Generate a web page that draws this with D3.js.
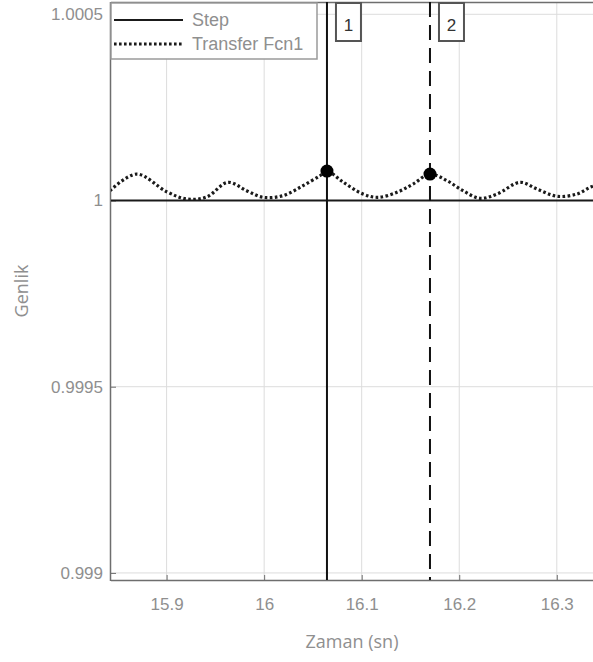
<!DOCTYPE html>
<html><head><meta charset="utf-8">
<script src="https://cdn.jsdelivr.net/npm/d3@7"></script>
<style>body{margin:0;background:#fff;}svg{display:block;}</style>
</head><body>
<svg id="c" width="593" height="662"></svg>
<script>
// ---- data ----
const xTicks = [15.9, 16, 16.1, 16.2, 16.3];
const yTicks = [0.999, 0.9995, 1, 1.0005];
const yTickLabels = ["0.999", "0.9995", "1", "1.0005"];
const legendLabels = ["Step", "Transfer Fcn1"];
const stepT = [15.80, 16.40];
const stepV = [1, 1];
const tfT = [15.842, 15.8692, 15.900, 15.9205, 15.941, 15.9629, 15.982, 15.9988, 16.0193, 16.0398, 16.0572, 16.0644, 16.0808, 16.1013, 16.1167, 16.1362, 16.1526, 16.170, 16.1875, 16.2039, 16.2213, 16.2388, 16.2624, 16.2798, 16.3003, 16.3208, 16.3341, 16.345];
const tfV = [1.0000263, 1.000071, 1.0000236, 1.000004, 1.0000094, 1.0000488, 1.0000263, 1.0000086, 1.0000129, 1.0000397, 1.0000665, 1.000079, 1.0000496, 1.0000174, 1.0000086, 1.000022, 1.0000442, 1.000071, 1.0000531, 1.0000263, 1.0000059, 1.0000174, 1.0000488, 1.0000308, 1.0000113, 1.0000174, 1.0000354, 1.000046];
const cursorT = [16.0644, 16.1700];
const cursorV = [1.000079, 1.000071];
const cursorLabels = ["1", "2"];

// ---- layout ----
const svg = d3.select("#c");
const L = 111, T = 2, R = 600, B = 580;
const x = d3.scaleLinear().domain([15.8430, 16.3443]).range([L, R]);
const y = d3.scaleLinear().domain([0.998981, 1.000533]).range([B, T]);
const FONT = "Liberation Sans, Arial, sans-serif";
const TXT = "#8f8f8f";

const g = svg.append("g");
g.append("rect").attr("x", L).attr("y", T).attr("width", R - L).attr("height", B - T).attr("fill", "#fff");

// grid
g.selectAll(".gx").data(xTicks).enter().append("line")
  .attr("x1", d => x(d)).attr("x2", d => x(d)).attr("y1", T).attr("y2", B)
  .attr("stroke", "#dcdcdc").attr("stroke-width", 1);
g.selectAll(".gy").data(yTicks).enter().append("line")
  .attr("y1", d => y(d)).attr("y2", d => y(d)).attr("x1", L).attr("x2", R)
  .attr("stroke", "#dcdcdc").attr("stroke-width", 1);

// axes with inner ticks
const ax = d3.axisBottom(x).tickValues(xTicks).tickSize(-5).tickPadding(18).tickFormat(d3.format("~g"));
const ay = d3.axisLeft(y).tickValues(yTicks).tickSize(-5).tickPadding(8).tickFormat((d, i) => yTickLabels[i]);
const gx = g.append("g").attr("transform", `translate(0,${B})`).call(ax);
const gy = g.append("g").attr("transform", `translate(${L},0)`).call(ay);
[gx, gy].forEach(a => {
  a.select(".domain").remove();
  a.selectAll("line").attr("stroke", "#707070");
  a.selectAll("text").attr("fill", TXT).style("font-family", FONT).style("font-size", "17px");
});
// frame
g.append("line").attr("x1", L).attr("x2", R).attr("y1", B + 0.5).attr("y2", B + 0.5).attr("stroke", "#6e6e6e").attr("stroke-width", 1.5);
g.append("line").attr("x1", L - 0.5).attr("x2", L - 0.5).attr("y1", T).attr("y2", B + 1).attr("stroke", "#6e6e6e").attr("stroke-width", 1.5);
g.append("line").attr("x1", L).attr("x2", R).attr("y1", T + 0.5).attr("y2", T + 0.5).attr("stroke", "#6e6e6e").attr("stroke-width", 1.5);

// clip
svg.append("clipPath").attr("id", "clp").append("rect").attr("x", L).attr("y", T).attr("width", R - L).attr("height", B - T);
const pg = g.append("g").attr("clip-path", "url(#clp)");

const line = d3.line().x(d => x(d[0])).y(d => y(d[1]));
pg.append("path").datum(stepT.map((t, i) => [t, stepV[i]]))
  .attr("d", line).attr("fill", "none").attr("stroke", "#1a1a1a").attr("stroke-width", 2);
pg.append("path").datum(tfT.map((t, i) => [t, tfV[i]]))
  .attr("d", line.curve(d3.curveCatmullRom.alpha(0.5))).attr("fill", "none").attr("stroke", "#1a1a1a")
  .attr("stroke-width", 3.2).attr("stroke-dasharray", "2.6,2.4");

// cursors
cursorT.forEach((t, i) => {
  pg.append("line").attr("x1", x(t)).attr("x2", x(t)).attr("y1", T).attr("y2", B)
    .attr("stroke", "#111").attr("stroke-width", 2)
    .attr("stroke-dasharray", i === 1 ? "15,8" : null);
  pg.append("circle").attr("cx", x(t)).attr("cy", y(cursorV[i])).attr("r", 6.5).attr("fill", "#000");
  const bx = x(t) + 9;
  g.append("rect").attr("x", bx).attr("y", T + 1).attr("width", 25).attr("height", 38)
    .attr("fill", "#fff").attr("stroke", "#555").attr("stroke-width", 2);
  g.append("text").attr("x", bx + 12.5).attr("y", T + 29).attr("text-anchor", "middle")
    .attr("fill", "#333").style("font-family", FONT).style("font-size", "17px")
    .text(cursorLabels[i]);
});

// legend
const lg = g.append("g");
lg.append("rect").attr("x", L).attr("y", T + 1).attr("width", 206).attr("height", 56)
  .attr("fill", "#fff").attr("stroke", "#9a9a9a").attr("stroke-width", 1.5);
legendLabels.forEach((lab, i) => {
  const yy = T + 18 + i * 24;
  lg.append("line").attr("x1", L + 3).attr("x2", L + 72).attr("y1", yy).attr("y2", yy)
    .attr("stroke", "#1a1a1a").attr("stroke-width", i === 0 ? 2 : 3.2)
    .attr("stroke-dasharray", i === 0 ? null : "2.6,2.4");
  lg.append("text").attr("x", L + 81).attr("y", yy + 6).attr("fill", TXT)
    .style("font-family", FONT).style("font-size", "18px").text(lab);
});

// axis titles
svg.append("text").attr("x", 352).attr("y", 648).attr("text-anchor", "middle")
  .attr("fill", TXT).style("font-family", "Open Sans, sans-serif").style("font-size", "18px").text("Zaman (sn)");
svg.append("text").attr("transform", `translate(28,${(T + B) / 2}) rotate(-90)`).attr("text-anchor", "middle")
  .attr("fill", TXT).style("font-family", "Open Sans, sans-serif").style("font-size", "18px").text("Genlik");
</script>
</body></html>
